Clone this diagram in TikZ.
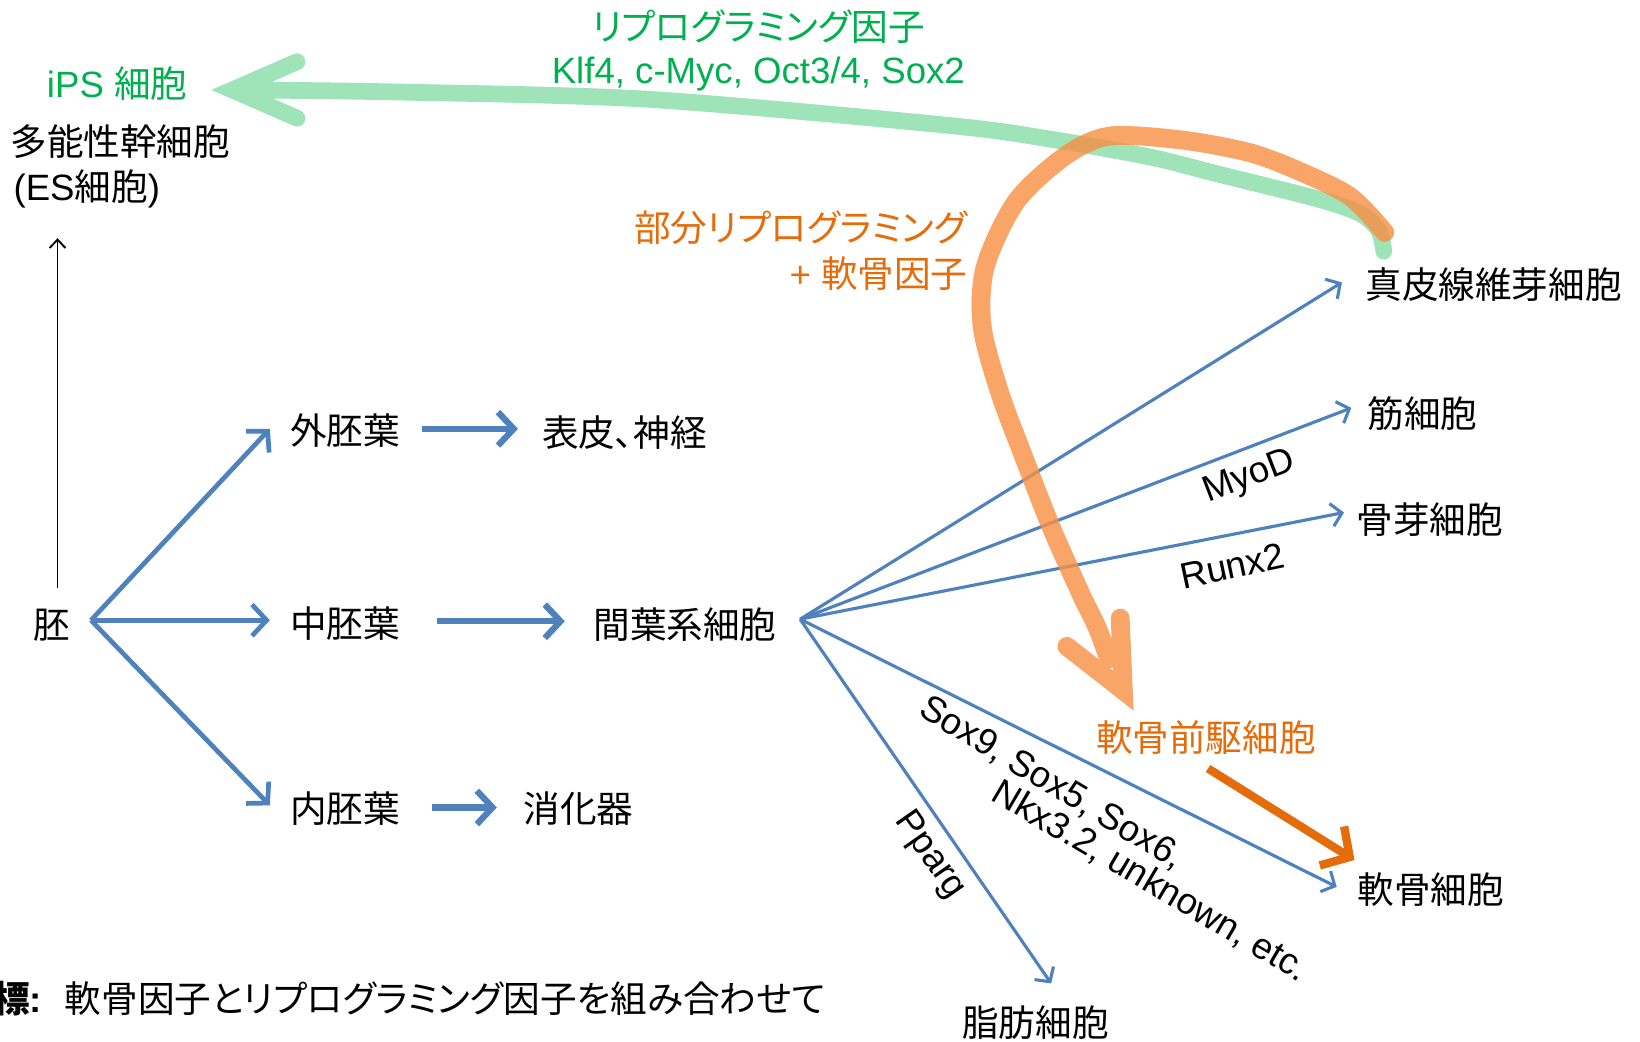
\documentclass[tikz,border=0pt]{standalone}
\usepackage{fontspec}
\setmainfont{Liberation Sans}
\newfontfamily\cjk{Noto Sans CJK JP}[RawFeature=+palt]
\usetikzlibrary{arrows.meta}
\definecolor{oblue}{RGB}{79,129,189}
\definecolor{odark}{RGB}{228,108,10}
\definecolor{olight}{RGB}{247,145,70}
\definecolor{gtext}{RGB}{0,176,80}
\definecolor{glight}{RGB}{158,228,184}
\newcommand\lfont{\fontsize{35bp}{42bp}\selectfont}
\newcommand\jfont{\cjk\fontsize{35bp}{42bp}\selectfont}
\tikzset{
  lbl/.style={inner sep=0pt, outer sep=0pt, font=\lfont, text height=29bp, text depth=2.5bp},
  jlbl/.style={lbl, font=\jfont},
  fanL/.style={draw=oblue, line width=4.5bp, -{Straight Barb[length=14bp,width=30bp]}},
  stepL/.style={draw=oblue, line width=6bp, -{Straight Barb[length=15bp,width=32bp]}},
  fanR/.style={draw=oblue, line width=3bp, -{Straight Barb[length=10bp,width=22bp]}},
  blackup/.style={draw=black, line width=1.8bp, -{Straight Barb[length=8bp,width=15bp]}},
  orsolid/.style={draw=odark, line width=8bp, -{Straight Barb[length=20bp,width=44bp]}},
  bigor/.style={draw=olight, draw opacity=0.82, line width=18bp, line cap=round, line join=miter},
  biggr/.style={draw=glight, line width=16bp, line cap=round, line join=miter},
}
\begin{document}
\begin{tikzpicture}[x=1bp,y=-1bp]
\useasboundingbox (0,0) rectangle (1568,996);

% ---------- nodes ----------
\node[lbl, text=gtext] (ips) at (112,80) {iPS {\cjk 細胞}};
\node[jlbl] (es1) at (115,135) {多能性幹細胞};
\node[lbl] (es2) at (83,178) {(ES{\cjk 細胞})};
\node[jlbl] (embryo) at (50,597) {胚};
\node[jlbl] (ecto) at (330,412) {外胚葉};
\node[jlbl] (meso) at (330,596) {中胚葉};
\node[jlbl] (endo) at (330,773) {内胚葉};
\node[jlbl] (epid) at (597,414) {表皮、神経};
\node[jlbl] (mesen) at (655,597) {間葉系細胞};
\node[jlbl] (digest) at (553,773) {消化器};
\node[jlbl] (derm) at (1428,272) {真皮線維芽細胞};
\node[jlbl] (muscle) at (1360,395) {筋細胞};
\node[jlbl] (osteo) at (1367,497) {骨芽細胞};
\node[jlbl] (chondro) at (1368,851) {軟骨細胞};
\node[jlbl] (adipo) at (990,978) {脂肪細胞};
\node[jlbl, text=odark] (precursor) at (1153,705) {軟骨前駆細胞};
\node[jlbl, text=odark, anchor=east] (orl1) at (925,218) {部分リプログラミング};
\node[lbl, text=odark, anchor=east] (orl2) at (925,262) {+ {\cjk 軟骨因子}};
\node[jlbl, text=gtext] (grl1) at (725,25) {リプログラミング因子};
\node[lbl, text=gtext] (grl2) at (725,67) {Klf4, c-Myc, Oct3/4, Sox2};
\node[lbl, rotate=21] (myod) at (1193,452) {MyoD};
\node[lbl, rotate=12] (runx) at (1178,540) {Runx2};
\node[lbl, rotate=-31, text height=25bp] (sox1) at (1006,748) {Sox9, Sox5, Sox6,};
\node[lbl, rotate=-30.5, text height=25bp] (sox2) at (1100,842) {Nkx3.2, unknown, etc.};
\node[lbl, rotate=-55] (pparg) at (893,815) {Pparg};
\node[jlbl, anchor=west] (goal) at (62,955) {軟骨因子とリプログラミング因子を組み合わせて};
\node[lbl, anchor=east] (goalhd) at (40,955) {{\cjk\bfseries 標}\textbf{:}};

% ---------- helper coordinates ----------
\coordinate (fan1) at ([shift={(19.5,-4)}]embryo.east);
\coordinate (fan2) at ([shift={(22.5,-5)}]mesen.east);
\coordinate (gstart) at ([shift={(17.5,-16)}]derm.north west);
\coordinate (gtip) at ([shift={(43,6)}]ips.east);
\coordinate (ostart) at ([shift={(18.5,-34)}]derm.north west);
\coordinate (otip) at ([shift={(-79,-29)}]precursor.north);

% ---------- connectors ----------
\draw[blackup] ([shift={(5,-19)}]embryo.north) -- ([shift={(-28,34)}]es2.south);

\draw[fanL] (fan1) -- ([shift={(-19.5,-2)}]ecto.west);
\draw[fanL] (fan1) -- ([shift={(-19.5,-3)}]meso.west);
\draw[fanL] (fan1) -- ([shift={(-19.5,-3)}]endo.west);

\draw[stepL] ([shift={(20.5,-2)}]ecto.east) -- ([shift={(-23,-4)}]epid.west);
\draw[stepL] ([shift={(35.5,-2)}]meso.east) -- ([shift={(-27.5,-3)}]mesen.west);
\draw[stepL] ([shift={(30.5,-1)}]endo.east) -- ([shift={(-25.5,-1)}]digest.west);

\draw[fanR] (fan2) -- ([shift={(-22.5,-2)}]derm.west);
\draw[fanR] (fan2) -- ([shift={(-15.5,-5)}]muscle.west);
\draw[fanR] (fan2) -- ([shift={(-12,-7)}]osteo.west);
\draw[fanR] (fan2) -- ([shift={(-20,-3)}]chondro.west);
\draw[fanR] (fan2) -- ([shift={(15,-22)}]adipo.north);

\draw[orsolid] ([shift={(2,14)}]precursor.south) -- ([shift={(-73,-13)}]chondro.north);

% big green arrow (reprogramming to iPS)
\draw[biggr] plot[smooth, tension=0.5] coordinates {(gstart) (1318,220) (1300,204) (1259,190) (1163,166) (1099,150) (1004,133) (908,120) (621,95) (382,88) (236,86)}
  (284,59) -- (gtip) -- (284,113);

% big orange arrow (partial reprogramming)
\draw[bigor] plot[smooth, tension=0.5] coordinates {(ostart) (1291,188) (1243,164) (1195,146) (1131,134) (1062,130) (1020,148) (972,192) (942,255) (939,312) (956,376) (980,440) (1005,504) (1033,567) (1049,600) (1060,630)}
  (1020,618) -- (otip) -- (1071,591);
\end{tikzpicture}
\end{document}
